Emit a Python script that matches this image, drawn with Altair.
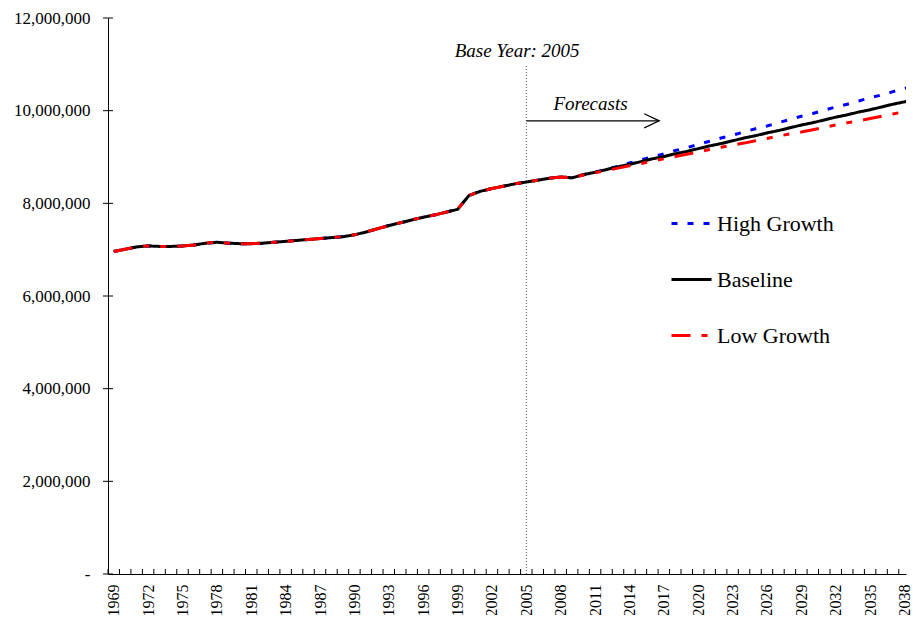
import altair as alt
import pandas as pd

# ---------------- data (population, millions) ----------------
hist_years = list(range(1969, 2010))
fore_years = list(range(2010, 2041))
hist_values = [6.96, 7.01, 7.06, 7.08, 7.07, 7.07, 7.08, 7.10, 7.14, 7.16,
               7.14, 7.13, 7.13, 7.14, 7.16, 7.18, 7.20, 7.22, 7.24, 7.26,
               7.28, 7.32, 7.38, 7.45, 7.52, 7.58, 7.64, 7.70, 7.75, 7.81,
               7.87, 8.17, 8.26, 8.32, 8.37, 8.42, 8.46, 8.50, 8.54, 8.57,
               8.55]
baseline_fore = [8.62, 8.67, 8.73, 8.79, 8.84, 8.90, 8.96, 9.01, 9.07, 9.12,
                 9.18, 9.24, 9.29, 9.35, 9.41, 9.46, 9.52, 9.57, 9.63, 9.69,
                 9.74, 9.80, 9.86, 9.91, 9.97, 10.02, 10.08, 10.14, 10.19, 10.25,
                 10.31]
high_fore = [8.62, 8.67, 8.74, 8.80, 8.87, 8.94, 9.00, 9.07, 9.14, 9.20,
             9.27, 9.34, 9.41, 9.47, 9.54, 9.61, 9.67, 9.74, 9.81, 9.88,
             9.94, 10.01, 10.08, 10.14, 10.21, 10.28, 10.34, 10.41, 10.48, 10.54,
             10.61]
low_fore = [8.61, 8.66, 8.71, 8.76, 8.81, 8.86, 8.91, 8.96, 9.01, 9.06,
            9.11, 9.16, 9.21, 9.26, 9.30, 9.35, 9.40, 9.45, 9.50, 9.54,
            9.59, 9.64, 9.69, 9.74, 9.78, 9.83, 9.88, 9.93, 9.98, 10.03,
            10.07]

series_names = ["High Growth", "Baseline", "Low Growth"]
series_colors = ["#0000FF", "#000000", "#FF0000"]
series_dashes = [[6, 10], [1, 0], [19, 11, 6, 11, 6, 11]]

y_tick_values = [0, 2000000, 4000000, 6000000, 8000000, 10000000, 12000000]
x_label_years = list(range(1969, 2039, 3))
x_domain = [1968.5, 2038.13]

base_year = 2005
base_line_top = 11000000
arrow_end = 2016.6
arrow_level = 9780000
base_label = "Base Year: 2005"
base_label_pos = (2004.2, 11290000)
forecast_label = "Forecasts"
forecast_label_pos = (2010.6, 10150000)

FONT = "Liberation Serif"

# ---------------- tables ----------------
rows = []
for name, fore in zip(series_names, [high_fore, baseline_fore, low_fore]):
    for yr, v in zip(hist_years + fore_years, hist_values + fore):
        rows.append({"year": yr, "series": name, "value": v * 1e6})
df = pd.DataFrame(rows)

xtick_df = pd.DataFrame({"x": [y - 0.5 for y in range(1969, 2039)]})
ytick_df = pd.DataFrame({"v": y_tick_values})

x_scale = alt.Scale(domain=x_domain, nice=False, zero=False)
y_scale = alt.Scale(domain=[0, 12000000], nice=False)

legend = alt.Legend(
    title=None, orient="none", legendX=562, legendY=184,
    symbolType="stroke", symbolSize=1600, symbolStrokeWidth=3,
    labelFont=FONT, labelFontSize=22, labelColor="black", labelOffset=4,
    rowPadding=23, padding=0, labelLimit=300,
)

color_enc = alt.Color("series:N", scale=alt.Scale(domain=series_names, range=series_colors), legend=legend)
dash_enc = alt.StrokeDash("series:N", scale=alt.Scale(domain=series_names, range=series_dashes), legend=legend)

x_axis = alt.Axis(values=x_label_years, format="d", labelAngle=270, ticks=False,
                  labelFont=FONT, labelFontSize=16, labelPadding=10, grid=False,
                  title=None, labelOverlap=False, labelBound=False, labelFlush=False,
                  domainColor="black")
y_axis = alt.Axis(values=y_tick_values,
                  labelExpr="datum.value == 0 ? '-\u00a0\u00a0\u00a0\u00a0' : format(datum.value, ',')",
                  ticks=False, labelFont=FONT, labelFontSize=17, labelPadding=18,
                  grid=False, title=None, labelOverlap=False, domainColor="black")


def X(field):
    return alt.X(field, scale=x_scale, axis=x_axis)


def Y(field):
    return alt.Y(field, scale=y_scale, axis=y_axis)


def series_layer(name):
    return alt.Chart(df).transform_filter(alt.datum.series == name).mark_line(
        strokeWidth=3, clip=True
    ).encode(
        x=X("year:Q"),
        y=Y("value:Q"),
        color=color_enc,
        strokeDash=dash_enc,
    )


lines = [series_layer(n) for n in series_names]

xticks = alt.Chart(xtick_df).mark_rule(color="black", strokeWidth=1).encode(
    x=X("x:Q"), y=alt.value(556), y2=alt.value(551))
yticks = alt.Chart(ytick_df).mark_rule(color="black", strokeWidth=1).encode(
    y=Y("v:Q"), x=alt.value(-5), x2=alt.value(5))

ann = pd.DataFrame({"x": [base_year], "y0": [0], "y1": [base_line_top],
                    "ax": [arrow_end], "ay": [arrow_level]})
base_rule = alt.Chart(ann).mark_rule(color="#555555", strokeWidth=1, strokeDash=[1, 2]).encode(
    x=X("x:Q"), y=Y("y0:Q"), y2="y1:Q")
arrow_rule = alt.Chart(ann).mark_rule(color="black", strokeWidth=1.2).encode(
    x=X("x:Q"), x2="ax:Q", y=Y("ay:Q"))
arrow_head = alt.Chart(ann).mark_point(
    shape="M -1 -0.47 L 0 0 L -1 0.47", size=900, filled=False,
    stroke="black", strokeWidth=1.2, opacity=1
).encode(x=X("ax:Q"), y=Y("ay:Q"))

texts = pd.DataFrame({
    "x": [base_label_pos[0], forecast_label_pos[0]],
    "y": [base_label_pos[1], forecast_label_pos[1]],
    "t": [base_label, forecast_label],
})
text_layer = alt.Chart(texts).mark_text(
    font=FONT, fontSize=19, fontStyle="italic", color="black", align="center", baseline="middle"
).encode(x=X("x:Q"), y=Y("y:Q"), text="t:N")

chart = alt.layer(
    *lines, base_rule, arrow_rule, arrow_head, text_layer, xticks, yticks
).properties(
    width=798, height=556,
    autosize=alt.AutoSizeParams(type="none"),
    padding={"left": 100, "top": 10, "right": 6, "bottom": 41},
).configure_view(stroke=None).configure_axis(labelColor="black")

chart.save("out.html", embed_options={"renderer": "svg", "actions": False})
